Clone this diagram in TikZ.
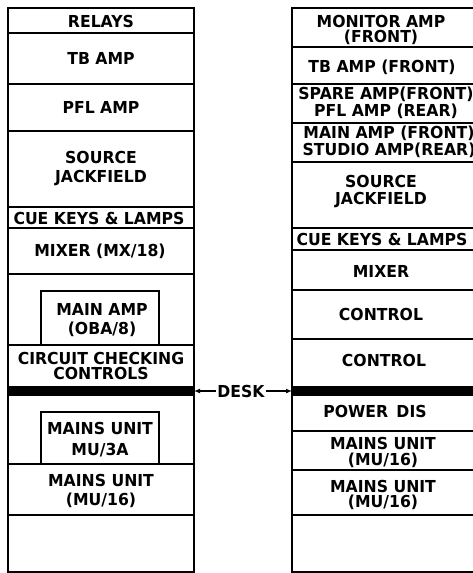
\documentclass[tikz,border=0pt]{standalone}
\usepackage{fontspec}
\setmainfont{DejaVu Sans}
\newfontfamily\lettering{DejaVu Sans Bold}[FakeStretch=0.95]
\usetikzlibrary{arrows.meta,positioning}
\begin{document}
\begin{tikzpicture}[x=1pt,y=-1pt,line width=1.6pt,
 lab/.style={font={\lettering\fontsize{16.5}{#1}\selectfont},align=center,inner sep=0pt},
 lab/.default=17,
 desktip/.style={line width=1.2pt,-{Latex[length=6pt,width=5pt]}}]
\useasboundingbox (0,0) rectangle (473,573);
\clip (0,0) rectangle (473,573);
% left rack
\draw (8,8) rectangle (194,572);
\foreach \y in {33,84,131,207,228,274,345,464,515}{\draw (8,\y) -- (194,\y);}
\fill (8,386) rectangle (194,396);
\draw (41,345) |- (159,291) -- (159,345);
\draw (41,464) |- (159,412) -- (159,464);
% right rack
\draw (480,8) -- (292,8) -- (292,572) -- (480,572);
\foreach \y in {47,84,123,162,228,250,290,339,431,470,515}{\draw (292,\y) -- (480,\y);}
\fill (292,386) rectangle (480,396);
% left labels
\node[lab] (relays) at (101,21) {RELAYS};
\node[lab] (tbamp) at (101,58) {TB AMP};
\node[lab] (pflamp) at (101,107) {PFL AMP};
\node[lab=19] (jackl) at (101,169) {SOURCE\\JACKFIELD};
\node[lab] (cuel) at (99,218) {CUE KEYS \& LAMPS};
\node[lab] (mixl) at (100,251) {MIXER (MX/18)};
\node[lab=19] (mainamp) at (102,320) {MAIN AMP\\(OBA/8)};
\node[lab=15] (circuit) at (101,366) {CIRCUIT CHECKING\\CONTROLS};
\node[lab=21] (mu3a) at (100,440) {MAINS UNIT\\MU/3A};
\node[lab=19] (mu16l) at (101,491) {MAINS UNIT\\(MU/16)};
% right labels
\node[lab=15] (monamp) at (381,30) {MONITOR AMP\\(FRONT)};
\node[lab] (tbfront) at (382,67) {TB AMP (FRONT)};
\node[lab] (spare) at (386,103) {SPARE AMP(FRONT)\\PFL AMP (REAR)};
\node[lab] (studio) at (389,142) {MAIN AMP (FRONT)\\STUDIO AMP(REAR)};
\node[lab] (jackr) at (381,192) {SOURCE\\JACKFIELD};
\node[lab] (cuer) at (382,239) {CUE KEYS \& LAMPS};
\node[lab] (mixr) at (381,271) {MIXER};
\node[lab] (ctrla) at (381,314) {CONTROL};
\node[lab] (ctrlb) at (384,360) {CONTROL};
\node[lab] (power) at (375,411) {POWER\enspace DIS};
\node[lab=16] (mu16a) at (383,452) {MAINS UNIT\\(MU/16)};
\node[lab=15] (mu16b) at (383,495) {MAINS UNIT\\(MU/16)};
% desk
\node[lab,inner xsep=1pt] (desk) at (241,391) {DESK};
\coordinate (lrack) at (194,391); \coordinate (rrack) at (292,391);
\draw[desktip] (desk.west) -- (lrack);
\draw[desktip] (desk.east) -- (rrack);
\end{tikzpicture}
\end{document}
